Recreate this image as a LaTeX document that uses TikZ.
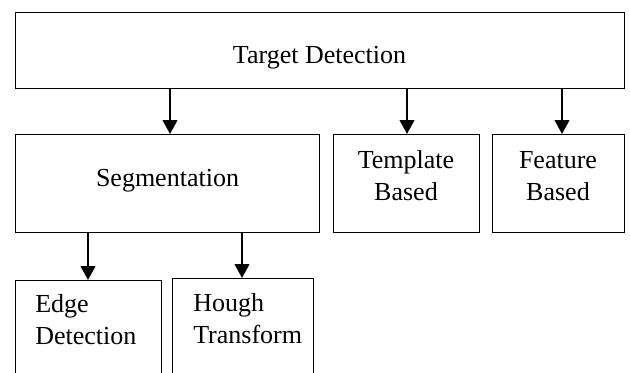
\documentclass[tikz,border=0pt]{standalone}
\usepackage{fontspec}
\setmainfont{Liberation Serif}
\usetikzlibrary{arrows.meta}
\begin{document}
\begin{tikzpicture}[x=0.75pt,y=-0.75pt,
  box/.style={draw,line width=1pt,rectangle,anchor=north west,inner sep=0pt},
  lbl/.style={font=\fontsize{19.5}{23.5}\selectfont,inner sep=0pt},
  arr/.style={line width=1.6pt,-{Triangle[length=10.5pt,width=11pt]}}]
\useasboundingbox (0,0) rectangle (630,372);
\clip (0,0) rectangle (630,372);
% boxes
\node[box,minimum width=456.75pt,minimum height=57pt] (top) at (15,12) {};
\node[box,minimum width=228pt,minimum height=73.5pt] (seg) at (15,134) {};
\node[box,minimum width=109.5pt,minimum height=73.5pt] (tmp) at (333,134) {};
\node[box,minimum width=99pt,minimum height=73.5pt] (feat) at (492,134) {};
\node[box,minimum width=109.5pt,minimum height=90pt] (edge) at (15,280) {};
\node[box,minimum width=105.75pt,minimum height=90pt] (hough) at (172,278) {};
% labels
\node[lbl,anchor=base] (tTop) at (319.5,63) {Target Detection};
\node[lbl,anchor=base] (tSeg) at (167.5,186) {Segmentation};
\node[lbl,anchor=base,align=center] (tTmp) at (406,200) {Template\\Based};
\node[lbl,anchor=base,align=center] (tFeat) at (558,200) {Feature\\Based};
\node[lbl,anchor=base west,align=left] (tEdge) at (35,344) {Edge\\Detection};
\node[lbl,anchor=base west,align=left] (tHough) at (193,343) {Hough\\Transform};
% arrow positions
\coordinate (a1) at (170,0);
\coordinate (a2) at (407,0);
\coordinate (a3) at (562,0);
\coordinate (a4) at (88,0);
\coordinate (a5) at (242,0);
\draw[arr] (top.south -| a1) -- (seg.north -| a1);
\draw[arr] (top.south -| a2) -- (tmp.north -| a2);
\draw[arr] (top.south -| a3) -- (feat.north -| a3);
\draw[arr] (seg.south -| a4) -- (edge.north -| a4);
\draw[arr] (seg.south -| a5) -- (hough.north -| a5);
\end{tikzpicture}
\end{document}
